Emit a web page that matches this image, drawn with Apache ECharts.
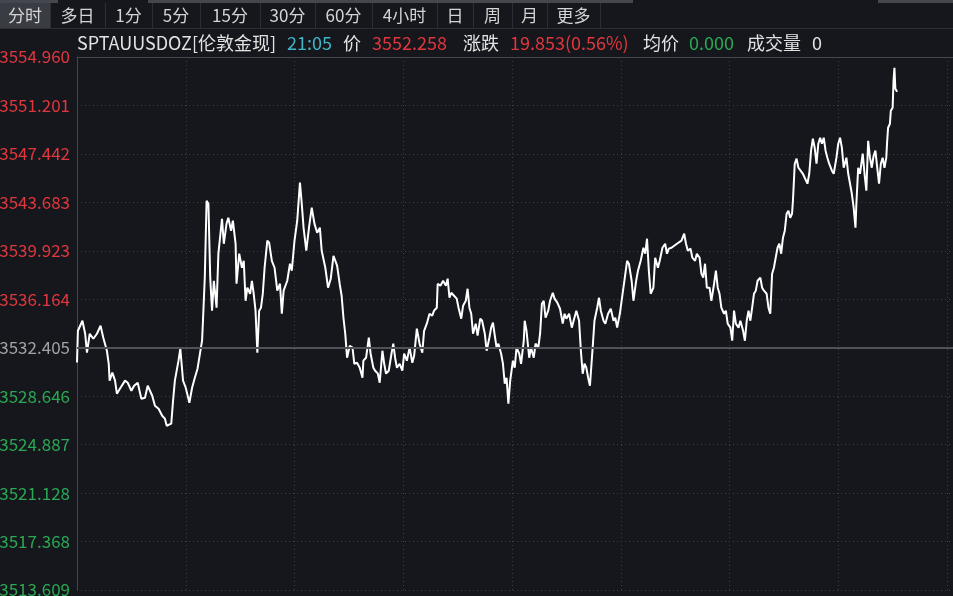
<!DOCTYPE html>
<html><head><meta charset="utf-8">
<script src="https://cdn.jsdelivr.net/npm/echarts@6/dist/echarts.min.js"></script>
<style>html,body{margin:0;padding:0;background:#15171c;overflow:hidden}#c{width:953px;height:596px}</style>
</head><body><div id="c"></div>
<script>
// ---------- data ----------
const prevClose = 3532.405;
const yMin = 3513.609, yMax = 3554.960;
const yTickLabels = ['3513.609','3517.368','3521.128','3524.887','3528.646','3532.405',
                     '3536.164','3539.923','3543.683','3547.442','3551.201','3554.960'];
const sessionMinutes = 1440;   // 06:00 -> 06:00 next day
const gridStepMinutes = 120;   // vertical grid every 2 hours
// minutes since 06:00
const minutes = [
  0,1,6,9,11,14,18,22,26,29,
  33,35,36,39,42,44,48,53,56,60,
  63,67,71,75,78,83,86,90,94,97,
  99,104,106,108,112,114,117,120,124,127,
  130,133,138,139,141,143,145,147,149,151,
  154,156,160,162,165,167,170,172,175,176,
  179,182,184,186,188,191,193,195,197,199,
  201,203,205,207,210,212,215,218,221,224,
  226,228,232,235,237,240,243,246,248,250,
  253,256,259,262,265,268,270,274,277,280,
  283,287,290,292,294,296,298,301,304,306,
  309,312,315,316,319,322,324,327,329,332,
  334,337,339,341,344,347,349,351,353,356,
  359,361,364,367,370,372,375,378,381,383,
  386,389,392,394,397,398,401,404,407,409,
  411,413,416,419,421,424,426,429,431,433,
  435,437,440,442,445,447,450,452,455,457,
  459,461,463,465,468,470,472,474,476,478,
  481,483,485,488,490,493,494,496,499,501,
  504,506,509,511,513,515,517,520,522,525,
  527,530,533,536,538,540,543,546,548,551,
  554,556,558,560,562,564,566,569,571,574,
  576,578,581,583,586,589,592,594,596,599,
  602,604,607,609,612,614,617,619,622,625,
  627,629,631,633,636,638,641,643,646,649,
  651,653,656,659,662,664,667,670,672,674,
  677,679,682,684,687,689,691,693,695,698,
  700,703,705,707,709,711,714,716,718,721,
  723,725,727,730,732,735,737,739,741,743,
  745,747,749,751,754,756,758,761,763,765,
  767,769,771,773,775,777,779,781,783,785,
  787,789,790,792,794,796,798,801,803,806,
  808,810,812,814,816,818,820,822,824,826,
  828,830,833,835,838,840,842,844,846,849,
  851,853,855,857,859,860,862,864,867,869,
  871,873,875,877,879,881,883,885,887,889,
  891,893,894,895,897,898,900,901,902,903,905
];
const prices = [
  3531.26,3533.72,3534.50,3533.49,3532.02,3533.49,3533.10,3533.49,3534.11,3533.18,
  3532.17,3531.16,3529.85,3530.47,3529.85,3528.84,3529.30,3529.85,3529.69,3529.07,
  3529.46,3529.69,3528.45,3528.53,3529.46,3528.68,3527.91,3527.67,3527.13,3526.90,
  3526.35,3526.51,3528.29,3529.85,3531.40,3532.33,3529.85,3529.30,3528.14,3529.30,
  3530.08,3530.78,3532.95,3534.50,3537.84,3543.81,3543.58,3537.84,3535.28,3537.60,
  3535.51,3539.70,3542.41,3540.47,3542.03,3542.49,3541.48,3542.26,3540.47,3537.37,
  3539.70,3538.61,3539.15,3536.05,3537.06,3536.59,3537.60,3536.59,3535.28,3532.02,
  3535.28,3535.51,3536.59,3538.61,3540.71,3540.55,3539.15,3538.61,3536.83,3537.37,
  3535.04,3536.83,3537.60,3538.92,3538.38,3540.71,3542.26,3545.21,3543.58,3541.72,
  3539.93,3541.72,3543.27,3542.03,3541.33,3541.72,3539.93,3538.61,3537.06,3537.76,
  3539.54,3538.77,3537.29,3536.44,3534.73,3533.49,3531.63,3532.56,3532.41,3531.16,
  3531.24,3530.85,3530.08,3531.40,3531.63,3533.18,3531.94,3530.85,3530.62,3530.39,
  3529.69,3532.17,3531.16,3530.39,3530.62,3531.94,3532.72,3531.63,3530.85,3531.16,
  3530.62,3531.94,3531.40,3532.41,3531.24,3531.78,3533.88,3532.72,3532.02,3533.72,
  3534.27,3535.04,3534.89,3535.28,3535.51,3537.37,3537.22,3537.60,3537.22,3537.76,
  3536.28,3536.67,3536.44,3536.21,3535.51,3534.66,3535.66,3536.05,3536.98,3535.51,
  3535.04,3533.49,3534.27,3533.34,3534.66,3534.50,3533.49,3532.17,3533.18,3533.96,
  3534.35,3533.34,3532.41,3532.72,3531.94,3531.16,3529.61,3530.08,3528.06,3529.85,
  3531.40,3530.85,3532.41,3531.94,3531.16,3532.95,3534.50,3533.72,3531.63,3532.41,
  3531.63,3532.72,3532.41,3533.49,3535.82,3536.05,3534.73,3535.28,3536.05,3536.67,
  3536.21,3535.90,3535.43,3534.27,3535.04,3534.66,3535.04,3533.96,3534.50,3535.28,
  3534.50,3532.17,3530.39,3531.16,3530.85,3530.08,3529.46,3532.41,3534.50,3535.51,
  3536.28,3535.28,3534.50,3534.27,3535.04,3535.43,3534.50,3534.73,3533.96,3535.04,
  3536.59,3537.60,3539.15,3538.92,3537.60,3536.05,3537.60,3538.38,3539.15,3540.16,
  3539.70,3540.86,3538.38,3536.59,3537.06,3539.39,3538.61,3539.15,3540.16,3540.47,
  3539.70,3540.09,3540.16,3540.32,3540.47,3540.55,3540.71,3541.25,3540.47,3539.93,
  3540.09,3539.39,3539.15,3539.70,3539.39,3538.15,3537.84,3538.92,3537.06,3537.06,
  3536.05,3537.37,3538.38,3537.06,3536.59,3535.51,3535.04,3535.28,3534.27,3533.96,
  3532.95,3535.28,3534.27,3533.96,3534.50,3533.72,3532.95,3534.50,3535.28,3534.50,
  3535.51,3536.59,3536.83,3537.60,3537.84,3537.06,3536.83,3536.59,3535.51,3535.04,
  3538.15,3538.61,3539.39,3540.16,3540.47,3539.70,3540.94,3541.48,3542.80,3543.03,
  3542.49,3542.80,3543.81,3546.68,3547.07,3546.37,3546.37,3545.90,3545.59,3545.13,
  3545.90,3547.69,3548.62,3547.92,3546.68,3548.23,3548.70,3548.23,3548.70,3547.69,
  3547.15,3546.68,3546.14,3545.90,3547.15,3548.23,3548.70,3547.92,3546.37,3547.15,
  3545.90,3545.13,3544.35,3543.27,3541.72,3543.58,3546.37,3545.90,3547.46,3545.90,
  3544.59,3548.46,3547.15,3546.37,3547.30,3547.69,3546.37,3545.13,3546.68,3547.15,
  3546.37,3547.15,3548.46,3549.47,3549.78,3550.79,3551.02,3553.12,3554.13,3552.50,3552.26
];
const tabs = ['分时','多日','1分','5分','15分','30分','60分','4小时','日','周','月','更多'];
const quoteName = 'SPTAUUSDOZ[伦敦金现]';
const quoteTime = '21:05';
const lastPrice = '3552.258';
const changeText = '19.853(0.56%)';
const avgPrice = '0.000';
const volume = '0';

// ---------- layout / style ----------
const FONT = '"Microsoft YaHei","Noto Sans CJK SC","Noto Sans",sans-serif';
const BG = '#15171c';
const RED = '#e0373e', GREEN = '#2aa854', GRAY_LABEL = '#a3a3a3', WHITE = '#e2e2e2', CYAN = '#3fb5c8';
const tabEdges = [0,50,105,152,200,260,315,372,437,473,512,547,600];
const pxPerMinute = 108.75 / 120;

const graphics = [];
[[0,58],[148,485],[878,75]].forEach(([x,w]) => graphics.push({type:'rect', shape:{x, y:0, width:w, height:3}, style:{fill:'#44474e'}, silent:true}));
graphics.push({type:'rect', shape:{x:0, y:3, width:50, height:25}, style:{fill:'#393c43'}, silent:true});
tabEdges.slice(1).forEach(x => graphics.push({type:'rect', shape:{x:x, y:3, width:1, height:25}, style:{fill:'#2b2e34'}, silent:true}));
graphics.push({type:'rect', shape:{x:0, y:28, width:953, height:1}, style:{fill:'#2b2e34'}, silent:true});
tabs.forEach((t, i) => {
  graphics.push({type:'text', x:(tabEdges[i] + tabEdges[i+1]) / 2, y:16, silent:true,
    style:{text:t, fill:'#d4d4d4', font:'17px ' + FONT, textAlign:'center', textVerticalAlign:'middle'}});
});
const headerItems = [
  [quoteName, WHITE, 77], [quoteTime, CYAN, 287], ['价', WHITE, 343], [lastPrice, RED, 372],
  ['涨跌', WHITE, 463], [changeText, RED, 510], ['均价', WHITE, 643], [avgPrice, GREEN, 689],
  ['成交量', WHITE, 747], [volume, WHITE, 812]
];
headerItems.forEach(([t, c, x]) => graphics.push({type:'text', x, y:43, silent:true,
  style:{text:t, fill:c, font:'18px ' + FONT, textAlign:'left', textVerticalAlign:'middle'}}));

const chart = echarts.init(document.getElementById('c'), null, {renderer:'canvas'});
chart.setOption({
  backgroundColor: BG,
  animation: false,
  graphic: graphics,
  grid: {left: 77, top: 57, width: sessionMinutes * pxPerMinute, height: 533,
         containLabel: false, outerBoundsMode: 'none'},
  xAxis: {
    type: 'value', min: 0, max: sessionMinutes, interval: gridStepMinutes, position: 'top',
    axisLine: {show: true, lineStyle: {color: '#44474d', width: 1}},
    axisTick: {show: false}, axisLabel: {show: false},
    splitLine: {show: true, lineStyle: {color: '#3b3e45', type: [1, 3], width: 1}}
  },
  yAxis: [
    {type: 'value', min: yMin, max: yMax, show: false, splitLine: {show: false}},
    {type: 'category', data: yTickLabels, boundaryGap: false, position: 'left',
     axisLine: {show: true, lineStyle: {color: '#44474d', width: 1}},
     axisTick: {show: false},
     axisLabel: {interval: 0, margin: 7, fontSize: 17, fontFamily: FONT, hideOverlap: false,
       color: (v) => { const n = parseFloat(v); return n > prevClose ? RED : (n < prevClose ? GREEN : GRAY_LABEL); }},
     splitLine: {show: true, interval: 0, lineStyle: {color: '#3b3e45', type: [1, 3], width: 1}}}
  ],
  series: [{
    type: 'line', xAxisIndex: 0, yAxisIndex: 0, showSymbol: false, symbol: 'none',
    data: minutes.map((m, i) => [m, prices[i]]),
    lineStyle: {color: '#ffffff', width: 2}, silent: true,
    markLine: {silent: true, symbol: 'none', label: {show: false},
      lineStyle: {color: '#4f5258', type: 'solid', width: 2},
      data: [{yAxis: prevClose}]}
  }]
});
</script></body></html>
